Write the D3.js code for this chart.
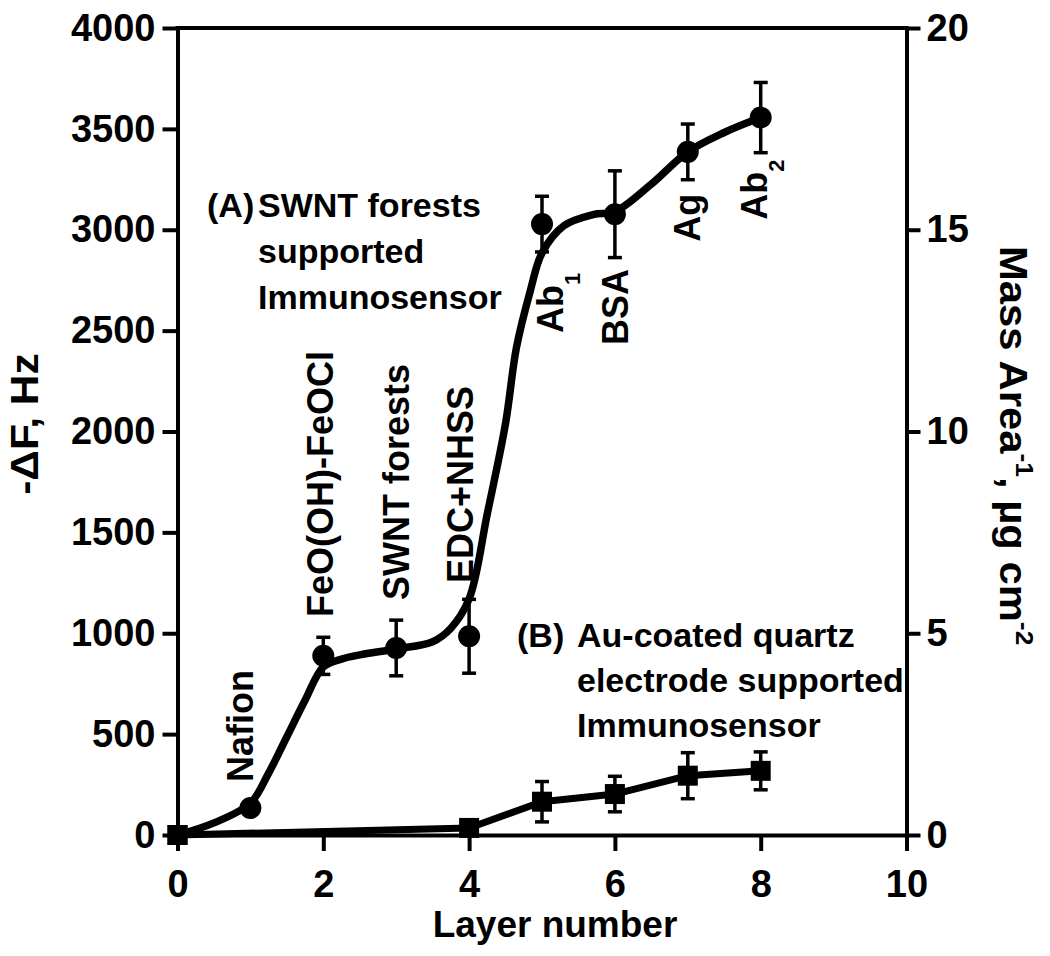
<!DOCTYPE html>
<html>
<head>
<meta charset="utf-8">
<script src="https://cdn.jsdelivr.net/npm/d3@7"></script>
<style>
  html, body { margin: 0; padding: 0; background: #fff; }
  svg text { font-family: "Liberation Sans", Arial, Helvetica, sans-serif; font-weight: bold; fill: #000; }
</style>
</head>
<body>
<svg id="chart" width="1050" height="956"></svg>
<script>
// ---------- data ----------
const layersA = [0, 1, 2, 3, 4, 5, 6, 7, 8];
const freqA   = [0, 134, 888, 927, 985, 3028, 3077, 3386, 3556];
const errA    = [0, 0, 92, 138, 183, 138, 215, 138, 174];

const layersB = [0, 4, 5, 6, 7, 8];
const freqB   = [0, 35, 165, 203, 294, 318];
const errB    = [0, 0, 100, 88, 114, 94];

// smooth fitted curve through series A
const fitX = [0, 0.5, 1, 1.25, 1.5, 1.75, 2, 2.25, 2.5, 3, 3.5, 3.75, 4, 4.25, 4.5, 4.65, 4.84, 5, 5.3, 5.7, 6, 6.5, 7, 7.5, 8];
const fitY = [0, 60, 158, 307, 487, 668, 833, 872, 893, 922, 958, 1025, 1170, 1593, 2040, 2417, 2698, 2885, 3020, 3075, 3090, 3226, 3386, 3482, 3556];

const xTicks = [0, 2, 4, 6, 8, 10];
const yTicks = [0, 500, 1000, 1500, 2000, 2500, 3000, 3500, 4000];
const y2Ticks = [0, 5, 10, 15, 20];

// layer annotations (text, subscript, anchor layer, anchor Hz)
const annText = ["Nafion", "FeO(OH)-FeOCl", "SWNT forests", "EDC+NHSS", "Ab", "BSA", "Ag", "Ab"];
const annSub  = ["", "", "", "", "1", "", "", "2"];
const annX    = [1.04, 2.133, 3.175, 4.053, 5.288, 6.18, 7.167, 8.086];
const annY    = [263, 1081, 1165, 1249, 2488, 2429, 2940, 3049];

// ---------- layout ----------
const svg = d3.select("#chart");
const L = 177.5, R = 906.5, T = 28, B = 835;
const x = d3.scaleLinear().domain([0, 10]).range([L, R]);
const y = d3.scaleLinear().domain([0, 4000]).range([B, T]);
const y2 = d3.scaleLinear().domain([0, 20]).range([B, T]);

const AX = 4;

// axes
const gx = svg.append("g").attr("transform", `translate(0,${B})`)
  .call(d3.axisBottom(x).tickValues(xTicks).tickFormat(d3.format("d")).tickSize(16).tickSizeOuter(0).tickPadding(19));
const gy = svg.append("g").attr("transform", `translate(${L},0)`)
  .call(d3.axisLeft(y).tickValues(yTicks).tickFormat(d3.format("d")).tickSize(15).tickSizeOuter(0).tickPadding(7));
const gy2 = svg.append("g").attr("transform", `translate(${R},0)`)
  .call(d3.axisRight(y2).tickValues(y2Ticks).tickFormat(d3.format("d")).tickSize(14).tickSizeOuter(0).tickPadding(6));

[gx, gy, gy2].forEach(g => {
  g.selectAll("path.domain").attr("stroke", "#000").attr("stroke-width", AX);
  g.selectAll(".tick line").attr("stroke", "#000").attr("stroke-width", AX);
  g.selectAll(".tick text").attr("font-size", 38).attr("fill", "#000")
    .style("font-family", '"Liberation Sans", Arial, sans-serif').style("font-weight", "bold");
});
// top frame line
svg.append("line").attr("x1", L - 2).attr("x2", R + 2).attr("y1", T).attr("y2", T)
  .attr("stroke", "#000").attr("stroke-width", AX);

// axis titles
svg.append("text").attr("x", 555).attr("y", 937).attr("text-anchor", "middle")
  .attr("font-size", 37).text("Layer number");

svg.append("text").attr("transform", `translate(38,424) scale(1,1.12) rotate(-90)`)
  .attr("text-anchor", "middle").attr("font-size", 38).text("-ΔF, Hz");

const rt = svg.append("text").attr("transform", `translate(1000,246) scale(1,1.1) rotate(90)`)
  .attr("text-anchor", "start").attr("font-size", 38);
rt.append("tspan").text("Mass Area");
rt.append("tspan").attr("font-size", 24).attr("dy", -16).text("-1");
rt.append("tspan").attr("dy", 16).text(", µg cm");
rt.append("tspan").attr("font-size", 24).attr("dy", -16).text("-2");

// ---------- series B (squares) ----------
const lineB = d3.line().x((d, i) => x(layersB[i])).y(d => y(d));
svg.append("path").datum(freqB).attr("d", lineB)
  .attr("fill", "none").attr("stroke", "#000").attr("stroke-width", 7).attr("stroke-linejoin", "round");

const eb = svg.append("g");
freqB.forEach((v, i) => {
  if (errB[i] > 0) {
    const cx = x(layersB[i]);
    eb.append("line").attr("x1", cx).attr("x2", cx).attr("y1", y(v + errB[i])).attr("y2", y(v - errB[i]))
      .attr("stroke", "#000").attr("stroke-width", 3.5);
    [v + errB[i], v - errB[i]].forEach(e => eb.append("line").attr("x1", cx - 7).attr("x2", cx + 7)
      .attr("y1", y(e)).attr("y2", y(e)).attr("stroke", "#000").attr("stroke-width", 3.5));
  }
});
svg.append("g").selectAll("rect").data(freqB).join("rect")
  .attr("x", (d, i) => x(layersB[i]) - 10).attr("y", d => y(d) - 10)
  .attr("width", 20).attr("height", 20).attr("fill", "#000");

// ---------- series A (circles + fitted curve) ----------
const fitLine = d3.line().x((d, i) => x(fitX[i])).y(d => y(d)).curve(d3.curveCatmullRom.alpha(0.5));
svg.append("path").datum(fitY).attr("d", fitLine)
  .attr("fill", "none").attr("stroke", "#000").attr("stroke-width", 7.5).attr("stroke-linecap", "round");

const ea = svg.append("g");
freqA.forEach((v, i) => {
  if (errA[i] > 0) {
    const cx = x(layersA[i]);
    ea.append("line").attr("x1", cx).attr("x2", cx).attr("y1", y(v + errA[i])).attr("y2", y(v - errA[i]))
      .attr("stroke", "#000").attr("stroke-width", 3.5);
    [v + errA[i], v - errA[i]].forEach(e => ea.append("line").attr("x1", cx - 7).attr("x2", cx + 7)
      .attr("y1", y(e)).attr("y2", y(e)).attr("stroke", "#000").attr("stroke-width", 3.5));
  }
});
svg.append("g").selectAll("circle").data(freqA.slice(1)).join("circle")
  .attr("cx", (d, i) => x(layersA[i + 1])).attr("cy", d => y(d)).attr("r", 11).attr("fill", "#000");
// square at origin on top
svg.append("rect").attr("x", x(0) - 10).attr("y", y(0) - 10).attr("width", 20).attr("height", 20).attr("fill", "#000");

// ---------- annotations ----------
annText.forEach((t, i) => {
  const tx = svg.append("text")
    .attr("transform", `translate(${x(annX[i])},${y(annY[i])}) rotate(-90)`)
    .attr("text-anchor", "start").attr("font-size", 36);
  tx.append("tspan").text(t);
  if (annSub[i]) tx.append("tspan").attr("font-size", 22).attr("dy", 17).text(annSub[i]);
});

const blockA = svg.append("g");
blockA.append("text").attr("x", 207).attr("y", 217).attr("font-size", 34).text("(A)");
["SWNT forests", "supported", "Immunosensor"].forEach((t, i) =>
  blockA.append("text").attr("x", 258).attr("y", 217 + i * 46).attr("font-size", 34).text(t));

const blockB = svg.append("g");
blockB.append("text").attr("x", 517).attr("y", 647).attr("font-size", 34).text("(B)");
["Au-coated quartz", "electrode supported", "Immunosensor"].forEach((t, i) =>
  blockB.append("text").attr("x", 577).attr("y", 647 + i * 45).attr("font-size", 34).text(t));
</script>
</body>
</html>
